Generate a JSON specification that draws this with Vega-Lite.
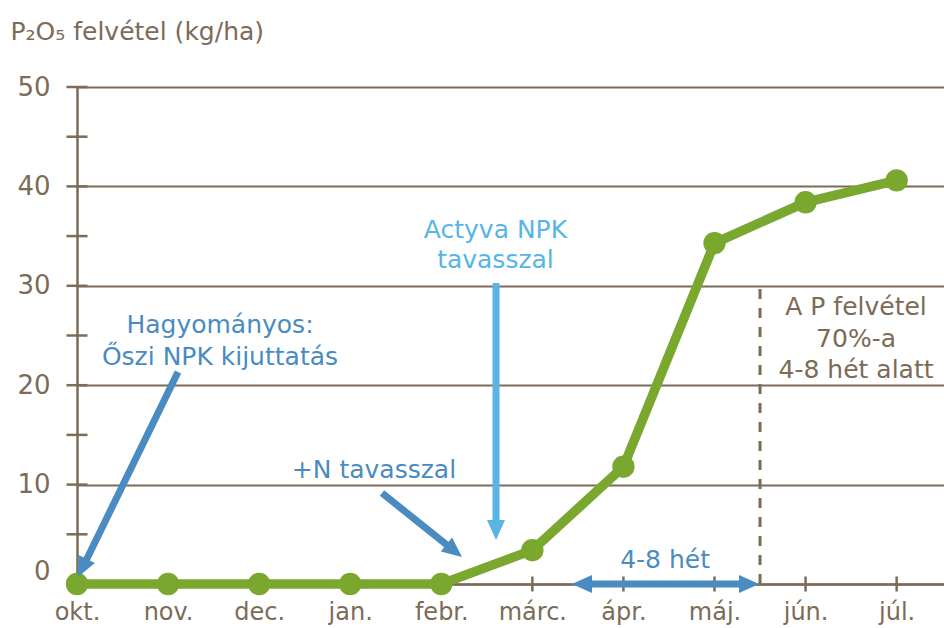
{
  "$schema": "https://vega.github.io/schema/vega-lite/v6.json",
  "width": 867,
  "height": 497,
  "autosize": {"type": "none"},
  "padding": {"left": 77, "top": 87, "right": 0, "bottom": 44},
  "background": "white",
  "config": {"view": {"stroke": null}, "font": "DejaVu Sans"},
  "datasets": {
    "uptake": [
      {"month": "okt.", "idx": 0, "p2o5": 0},
      {"month": "nov.", "idx": 1, "p2o5": 0},
      {"month": "dec.", "idx": 2, "p2o5": 0},
      {"month": "jan.", "idx": 3, "p2o5": 0},
      {"month": "febr.", "idx": 4, "p2o5": 0},
      {"month": "márc.", "idx": 5, "p2o5": 3.4},
      {"month": "ápr.", "idx": 6, "p2o5": 11.8},
      {"month": "máj.", "idx": 7, "p2o5": 34.3},
      {"month": "jún.", "idx": 8, "p2o5": 38.4},
      {"month": "júl.", "idx": 9, "p2o5": 40.6}
    ],
    "yticks": [
      {"v": 0}, {"v": 5}, {"v": 10}, {"v": 15}, {"v": 20}, {"v": 25},
      {"v": 30}, {"v": 35}, {"v": 40}, {"v": 45}, {"v": 50}
    ],
    "marker": [
      {"x": 7.5, "y": 0, "y2": 30}
    ],
    "shafts": [
      {"group": "Hagyományos", "x": 1.109, "y": 21.33, "x2": 0.069, "y2": 1.79},
      {"group": "+N", "x": 3.349, "y": 9.15, "x2": 4.124, "y2": 3.47},
      {"group": "Actyva", "x": 4.601, "y": 30.28, "x2": 4.601, "y2": 5.63},
      {"group": "4-8 hét", "x": 5.567, "y": 0, "x2": 7.357, "y2": 0}
    ],
    "heads": [
      {"group": "Hagyományos", "end": "tip", "x": 0.011, "y": 0.7},
      {"group": "+N", "end": "tip", "x": 4.228, "y": 2.72},
      {"group": "Actyva", "end": "tip", "x": 4.601, "y": 4.43},
      {"group": "4-8 hét", "end": "left", "x": 5.435, "y": 0},
      {"group": "4-8 hét", "end": "right", "x": 7.489, "y": 0}
    ],
    "notes": [
      {"group": "Hagyományos", "text": "Hagyományos:", "x": 1.57, "y": 25.25},
      {"group": "Hagyományos", "text": "Őszi NPK kijuttatás", "x": 1.57, "y": 22.03},
      {"group": "+N", "text": "+N tavasszal", "x": 3.261, "y": 10.66},
      {"group": "4-8 hét", "text": "4-8 hét", "x": 6.457, "y": 1.61},
      {"group": "Actyva", "text": "Actyva NPK", "x": 4.595, "y": 34.81},
      {"group": "Actyva", "text": "tavasszal", "x": 4.595, "y": 31.79},
      {"group": "A P felvétel", "text": "A P felvétel", "x": 8.554, "y": 27.06},
      {"group": "A P felvétel", "text": "70%-a", "x": 8.554, "y": 23.84},
      {"group": "A P felvétel", "text": "4-8 hét alatt", "x": 8.554, "y": 20.72}
    ]
  },
  "layer": [
    {
      "data": {"name": "uptake"},
      "mark": {"type": "line", "color": "#7aa82f", "strokeWidth": 9, "opacity": 0},
      "encoding": {
        "x": {
          "field": "idx", "type": "quantitative",
          "scale": {"domain": [0, 9.52], "nice": false, "zero": false},
          "axis": {
            "values": [0, 1, 2, 3, 4, 5, 6, 7, 8, 9],
            "labelExpr": "['okt.','nov.','dec.','jan.','febr.','márc.','ápr.','máj.','jún.','júl.'][datum.value]",
            "grid": false, "ticks": false,
            "domainColor": "#7b6b57", "domainWidth": 2.5,
            "labelColor": "#7b6b57", "labelFontSize": 24, "labelPadding": 16,
            "labelFont": "DejaVu Sans", "labelFlush": false, "labelOverlap": false,
            "title": null
          }
        },
        "y": {
          "field": "p2o5", "type": "quantitative",
          "scale": {"domain": [0, 50], "nice": false},
          "axis": {
            "values": [0, 10, 20, 30, 40, 50],
            "grid": true, "gridColor": "#7b6b57", "gridWidth": 2, "gridOpacity": 1,
            "ticks": false,
            "domainColor": "#7b6b57", "domainWidth": 2.5,
            "labelColor": "#7b6b57", "labelFontSize": 26, "labelPadding": 27,
            "labelFont": "DejaVu Sans",
            "labelBaseline": {"condition": {"test": "datum.value === 0", "value": "bottom"}, "value": "middle"},
            "title": "P₂O₅ felvétel (kg/ha)",
            "titleAngle": 0, "titleAlign": "left", "titleBaseline": "alphabetic",
            "titleX": -67, "titleY": -48,
            "titleFontSize": 25, "titleFontWeight": "normal", "titleColor": "#7b6b57",
            "titleFont": "DejaVu Sans"
          }
        }
      }
    },
    {
      "data": {"name": "yticks"},
      "mark": {"type": "tick", "orient": "horizontal", "size": 21, "thickness": 2.5, "color": "#7b6b57", "opacity": 1},
      "encoding": {
        "x": {"datum": 0, "type": "quantitative"},
        "y": {"field": "v", "type": "quantitative"}
      }
    },
    {
      "data": {"name": "uptake"},
      "mark": {"type": "tick", "orient": "vertical", "size": 15, "thickness": 2.5, "color": "#7b6b57", "opacity": 1},
      "encoding": {
        "x": {"field": "idx", "type": "quantitative"},
        "y": {"datum": 0, "type": "quantitative"}
      }
    },
    {
      "data": {"name": "marker"},
      "mark": {"type": "rule", "color": "#7b6b57", "strokeWidth": 3, "strokeDash": [10, 9]},
      "encoding": {
        "x": {"field": "x", "type": "quantitative"},
        "y": {"field": "y", "type": "quantitative"},
        "y2": {"field": "y2"}
      }
    },
    {
      "data": {"name": "uptake"},
      "mark": {"type": "line", "color": "#7aa82f", "strokeWidth": 9.5},
      "encoding": {
        "x": {"field": "idx", "type": "quantitative"},
        "y": {"field": "p2o5", "type": "quantitative"}
      }
    },
    {
      "data": {"name": "uptake"},
      "mark": {"type": "point", "filled": true, "opacity": 1, "size": 500, "color": "#7aa82f"},
      "encoding": {
        "x": {"field": "idx", "type": "quantitative"},
        "y": {"field": "p2o5", "type": "quantitative"}
      }
    },
    {
      "data": {"name": "shafts"},
      "mark": {"type": "rule", "strokeWidth": 7, "strokeCap": "butt"},
      "encoding": {
        "x": {"field": "x", "type": "quantitative"},
        "y": {"field": "y", "type": "quantitative"},
        "x2": {"field": "x2"},
        "y2": {"field": "y2"},
        "color": {
          "field": "group", "type": "nominal", "legend": null,
          "scale": {
            "domain": ["Hagyományos", "+N", "Actyva", "4-8 hét", "A P felvétel"],
            "range": ["#4a8bc2", "#4a8bc2", "#56b5e6", "#4a8bc2", "#7b6b57"]
          }
        }
      }
    },
    {
      "data": {"name": "heads"},
      "transform": [{"filter": "datum.group === 'Hagyományos'"}],
      "mark": {"type": "point", "filled": true, "opacity": 1, "shape": "M0,0L0.9,2L-0.9,2Z", "size": 400, "angle": 206},
      "encoding": {
        "x": {"field": "x", "type": "quantitative"},
        "y": {"field": "y", "type": "quantitative"},
        "color": {"field": "group", "type": "nominal", "legend": null}
      }
    },
    {
      "data": {"name": "heads"},
      "transform": [{"filter": "datum.group === '+N'"}],
      "mark": {"type": "point", "filled": true, "opacity": 1, "shape": "M0,0L0.9,2L-0.9,2Z", "size": 400, "angle": 128.7},
      "encoding": {
        "x": {"field": "x", "type": "quantitative"},
        "y": {"field": "y", "type": "quantitative"},
        "color": {"field": "group", "type": "nominal", "legend": null}
      }
    },
    {
      "data": {"name": "heads"},
      "transform": [{"filter": "datum.group === 'Actyva'"}],
      "mark": {"type": "point", "filled": true, "opacity": 1, "shape": "M0,0L0.9,2L-0.9,2Z", "size": 400, "angle": 180},
      "encoding": {
        "x": {"field": "x", "type": "quantitative"},
        "y": {"field": "y", "type": "quantitative"},
        "color": {"field": "group", "type": "nominal", "legend": null}
      }
    },
    {
      "data": {"name": "heads"},
      "transform": [{"filter": "datum.end === 'left'"}],
      "mark": {"type": "point", "filled": true, "opacity": 1, "shape": "M0,0L0.9,2L-0.9,2Z", "size": 400, "angle": 270},
      "encoding": {
        "x": {"field": "x", "type": "quantitative"},
        "y": {"field": "y", "type": "quantitative"},
        "color": {"field": "group", "type": "nominal", "legend": null}
      }
    },
    {
      "data": {"name": "heads"},
      "transform": [{"filter": "datum.end === 'right'"}],
      "mark": {"type": "point", "filled": true, "opacity": 1, "shape": "M0,0L0.9,2L-0.9,2Z", "size": 400, "angle": 90},
      "encoding": {
        "x": {"field": "x", "type": "quantitative"},
        "y": {"field": "y", "type": "quantitative"},
        "color": {"field": "group", "type": "nominal", "legend": null}
      }
    },
    {
      "data": {"name": "notes"},
      "mark": {"type": "text", "align": "center", "baseline": "alphabetic", "fontSize": 25, "font": "DejaVu Sans"},
      "encoding": {
        "x": {"field": "x", "type": "quantitative"},
        "y": {"field": "y", "type": "quantitative"},
        "text": {"field": "text"},
        "color": {"field": "group", "type": "nominal", "legend": null}
      }
    }
  ]
}
